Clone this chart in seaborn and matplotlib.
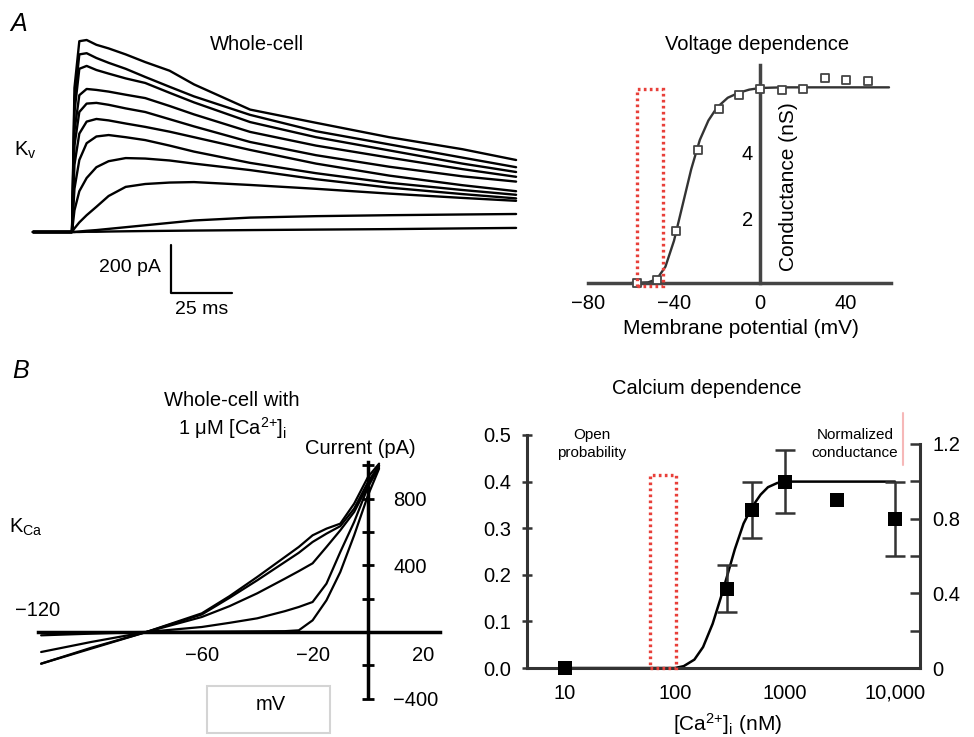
import numpy as np
import pandas as pd
import matplotlib
matplotlib.use("Agg")
import matplotlib.pyplot as plt
from matplotlib.patches import Rectangle
from matplotlib.lines import Line2D
from matplotlib.ticker import LogLocator, NullFormatter
import seaborn as sns

# ---- A, whole-cell Kv sweeps (time in ms, current in pA)
kv_time = [-16, 0, 1, 3, 6, 10, 15, 22, 30, 40, 50, 73, 100, 130, 160, 182]
kv_sweep1 = [0, 0, 600, 795, 800, 780, 765, 740, 708, 672, 615, 510, 455, 395, 345, 300]
kv_sweep2 = [0, 0, 550, 740, 745, 725, 705, 680, 646, 605, 565, 488, 420, 365, 310, 270]
kv_sweep3 = [0, 0, 500, 680, 692, 675, 660, 640, 621, 580, 540, 458, 395, 340, 285, 250]
kv_sweep4 = [0, 0, 420, 570, 596, 592, 585, 572, 558, 525, 490, 417, 360, 310, 262, 230]
kv_sweep5 = [0, 0, 360, 500, 535, 538, 530, 515, 500, 470, 440, 375, 320, 272, 232, 210]
kv_sweep6 = [0, 0, 280, 410, 460, 471, 465, 452, 438, 418, 395, 342, 285, 235, 195, 170]
kv_sweep7 = [0, 0, 180, 300, 370, 398, 404, 395, 383, 360, 335, 288, 245, 205, 175, 155]
kv_sweep8 = [0, 0, 90, 170, 225, 270, 295, 308, 306, 298, 285, 258, 220, 185, 158, 140]
kv_sweep9 = [0, 0, 15, 40, 70, 105, 150, 188, 200, 206, 208, 196, 180, 160, 142, 130]
kv_sweep10 = [0, 0, 0, 2, 5, 8, 13, 20, 28, 38, 48, 60, 66, 70, 73, 75]
kv_sweep11 = [0, 0, 0, 0, 1, 1, 2, 3, 4, 5, 6, 8, 10, 12, 15, 17]
kv_sweeps = [kv_sweep1, kv_sweep2, kv_sweep3, kv_sweep4, kv_sweep5, kv_sweep6,
             kv_sweep7, kv_sweep8, kv_sweep9, kv_sweep10, kv_sweep11]

# ---- A, voltage dependence (mV, nS)
vd_voltage = [-57, -48, -39, -29, -19, -10, 0, 10, 20, 30, 40, 50]
vd_conductance = [0.0, 0.1, 1.6, 4.1, 5.35, 5.8, 5.97, 5.95, 5.97, 6.3, 6.25, 6.2]
vd_fit_v = [-60, -52, -48, -44, -40, -36, -32, -28, -24, -20, -15, -10, -5, 0, 10, 60]
vd_fit_g = [0.0, 0.02, 0.12, 0.5, 1.3, 2.4, 3.5, 4.4, 5.0, 5.4, 5.7, 5.85, 5.95, 6.0, 6.02, 6.02]
vd_box_v = (-57.2, -45.1)
vd_box_top = 5.97

# ---- B, KCa ramps with 1 uM Ca (mV, pA)
iv_voltage = [-118, -100, -80, -60, -50, -40, -30, -25, -20, -15, -10, -5, 0, 4]
iv_ramp1 = [-190, -100, 0, 112, 215, 330, 450, 510, 580, 620, 650, 770, 930, 1010]
iv_ramp2 = [-190, -95, 0, 105, 205, 310, 420, 475, 540, 590, 635, 740, 900, 1000]
iv_ramp3 = [-120, -60, 0, 90, 155, 232, 320, 365, 412, 510, 610, 720, 880, 1000]
iv_ramp4 = [-20, -10, 0, 30, 55, 82, 125, 150, 180, 290, 480, 660, 870, 990]
iv_ramp5 = [-5, -3, 0, 2, 3, 4, 5, 10, 70, 190, 360, 580, 820, 980]
iv_ramps = [iv_ramp1, iv_ramp2, iv_ramp3, iv_ramp4, iv_ramp5]

# ---- B, calcium dependence ([Ca2+]i nM, open probability)
ca_conc = [10, 300, 500, 1000, 3000, 10000]
ca_popen = [0.0, 0.17, 0.34, 0.40, 0.36, 0.32]
ca_sem = [0, 0.05, 0.06, 0.068, 0, 0.08]
ca_fit_conc = [10, 100, 120, 150, 180, 220, 260, 300, 350, 420, 500, 600, 700, 850, 1000, 10000]
ca_fit_popen = [0, 0, 0.004, 0.018, 0.045, 0.095, 0.15, 0.2, 0.255, 0.31, 0.345, 0.372, 0.388, 0.397, 0.40, 0.40]
ca_box_conc = (59, 102)
ca_box_top = 0.414

sns.set_style("white")
plt.rcParams["font.family"] = ["Liberation Sans", "DejaVu Sans"]
plt.rcParams["mathtext.fontset"] = "custom"
plt.rcParams["mathtext.rm"] = "Liberation Sans"
plt.rcParams["mathtext.it"] = "Liberation Sans:italic"
for k in ["text.color", "axes.labelcolor", "xtick.color", "ytick.color"]:
    plt.rcParams[k] = "black"

W, H = 974, 737
fig = plt.figure(figsize=(W / 100, H / 100), dpi=100)
RED = "#e8403a"
TICK = 14.5


def px_axes(left, top, right, bottom):
    return fig.add_axes([left / W, 1 - bottom / H, (right - left) / W, (bottom - top) / H])


def px_text(x, y, s, **kw):
    kw.setdefault("ha", "center")
    kw.setdefault("va", "center")
    return fig.text(x / W, 1 - y / H, s, **kw)


# ================= A left: current traces =================
ax = px_axes(30, 20, 525, 330)
kv_df = pd.DataFrame({
    "time": kv_time * len(kv_sweeps),
    "current": sum(kv_sweeps, []),
    "sweep": np.repeat(np.arange(len(kv_sweeps)), len(kv_time)),
})
sns.lineplot(data=kv_df, x="time", y="current", units="sweep", estimator=None,
             sort=False, color="black", lw=1.7, ax=ax, legend=False)
ax.set_xlim((30 - 72) / 2.44, (525 - 72) / 2.44)
ax.set_ylim((232 - 330) / 0.24, (232 - 20) / 0.24)
ax.axis("off")
sb_t, sb_i = 40.6, -254
ax.plot([sb_t, sb_t, sb_t + 25], [sb_i + 200, sb_i, sb_i], color="black", lw=1.6)
px_text(130, 268, "200 pA", fontsize=14)
px_text(202, 310, "25 ms", fontsize=14)

# ================= A right: voltage dependence =================
ax = px_axes(760 - 82 * 2.15, 283 - 6.9 * 32.5, 760 + 64 * 2.15, 283 + 0.4 * 32.5)
sns.lineplot(x=vd_fit_v, y=vd_fit_g, color="#333333", lw=1.7, ax=ax)
sns.scatterplot(x=vd_voltage, y=vd_conductance, marker="s", s=30, color="white",
                edgecolor="#444444", linewidth=1.3, ax=ax, zorder=4, clip_on=False)
ax.add_patch(Rectangle((vd_box_v[0], -0.1), vd_box_v[1] - vd_box_v[0], vd_box_top + 0.1,
                       fill=False, edgecolor=RED, lw=2.4, ls=(0, (0.8, 1.0)), zorder=5))
ax.set_xlim(-82, 64)
ax.set_ylim(-0.4, 6.9)
for s in ["top", "right"]:
    ax.spines[s].set_visible(False)
for s in ["left", "bottom"]:
    ax.spines[s].set_position(("data", 0))
    ax.spines[s].set_color("#444444")
    ax.spines[s].set_linewidth(2.5)
ax.spines["left"].set_bounds(0, 6.7)
ax.spines["bottom"].set_bounds(-80, 61)
ax.set_xticks([-80, -40, 0, 40])
ax.set_xticks([-60, -20, 20, 60], minor=True)
ax.set_yticks([2, 4])
ax.set_yticks([1, 3, 5, 6], minor=True)
ax.tick_params(which="both", direction="inout", length=6, width=2, color="#444444",
               labelsize=TICK)
ax.tick_params(axis="x", pad=5)
ax.tick_params(axis="y", pad=2)
ax.set_xlabel("")
ax.set_ylabel("")
px_text(788, 187, "Conductance (nS)", fontsize=15, rotation=90)
px_text(741, 328, "Membrane potential (mV)", fontsize=15)
px_text(757, 44, "Voltage dependence", fontsize=14.5)

# ================= B left: I-V ramps =================
ax = px_axes(30, 455, 445, 705)
iv_df = pd.DataFrame({
    "mV": iv_voltage * len(iv_ramps),
    "pA": sum(iv_ramps, []),
    "ramp": np.repeat(np.arange(len(iv_ramps)), len(iv_voltage)),
})
sns.lineplot(data=iv_df, x="mV", y="pA", units="ramp", estimator=None, sort=False,
             color="black", lw=1.6, ax=ax, legend=False)
ax.set_xlim((30 - 368) / 2.77, (445 - 368) / 2.77)
ax.set_ylim((632 - 705) / 0.1667, (632 - 455) / 0.1667)
for s in ["top", "left"]:
    ax.spines[s].set_visible(False)
for s in ["right", "bottom"]:
    ax.spines[s].set_position(("data", 0))
    ax.spines[s].set_color("black")
    ax.spines[s].set_linewidth(2.5)
ax.yaxis.set_ticks_position("right")
ax.spines["right"].set_bounds(-390, 1020)
ax.spines["bottom"].set_bounds(-119, 26)
ax.set_xticks(range(-120, 21, 20))
ax.set_xticklabels(["", "", "", "\u221260", "", "\u221220", "", "20"])
ax.set_yticks(range(-400, 1001, 200))
ax.set_yticklabels(["\u2212400", "", "", "", "400", "", "800", ""])
ax.tick_params(direction="inout", length=8, width=2, color="black", labelsize=TICK)
ax.tick_params(axis="x", pad=6)
ax.tick_params(axis="y", pad=14)
ax.set_xlabel("")
ax.set_ylabel("")
px_text(38, 610, "\u2212120", fontsize=TICK)
px_text(360, 449, "Current (pA)", fontsize=14.5)
px_text(232, 400, "Whole-cell with", fontsize=14.5)
px_text(232, 428, r"1 μM [Ca$^{\mathrm{2{+}}}$]$_{\mathrm{i}}$", fontsize=14.5)
fig.add_artist(Rectangle((207 / W, 1 - 733 / H), 123 / W, 47 / H, transform=fig.transFigure,
                         facecolor="white", edgecolor="#d4d4d4", lw=1.5))
px_text(271, 704, "mV", fontsize=14.5)

# ================= B right: calcium dependence =================
ax = px_axes(527, 435, 920, 672)
ax.set_xscale("log")
sns.lineplot(x=ca_fit_conc, y=ca_fit_popen, color="black", lw=1.8, ax=ax)
has_err = [e > 0 for e in ca_sem]
ax.errorbar([c for c, k in zip(ca_conc, has_err) if k],
            [p for p, k in zip(ca_popen, has_err) if k],
            yerr=[e for e, k in zip(ca_sem, has_err) if k],
            fmt="none", ecolor="#333333", elinewidth=1.8, capsize=7, capthick=1.8)
sns.scatterplot(x=ca_conc, y=ca_popen, marker="s", s=115, color="black",
                linewidth=0, ax=ax, zorder=4, clip_on=False)
ax.add_patch(Rectangle((ca_box_conc[0], 0), ca_box_conc[1] - ca_box_conc[0], ca_box_top,
                       fill=False, edgecolor=RED, lw=2.4, ls=(0, (0.8, 1.0)), zorder=5))
xlo = 10 ** (1 + (527 - 565) / 110)
xhi = 10 ** (1 + (920 - 565) / 110)
ax.set_xlim(xlo, xhi)
ylim = ((668 - 672) / 466.7, (668 - 435) / 466.7)
ax.set_ylim(*ylim)
for s in ["top", "right"]:
    ax.spines[s].set_visible(False)
for s in ["left", "bottom"]:
    ax.spines[s].set_color("#333333")
    ax.spines[s].set_linewidth(2.2)
ax.spines["bottom"].set_position(("data", 0))
ax.spines["left"].set_bounds(0, 0.5)
ax.set_xticks([10, 100, 1000, 10000])
ax.set_xticklabels(["10", "100", "1000", "10,000"])
ax.xaxis.set_minor_locator(LogLocator(base=10, subs=np.arange(2, 10)))
ax.xaxis.set_minor_formatter(NullFormatter())
ax.set_yticks(np.arange(0, 0.51, 0.1))
ax.set_yticklabels(["0.0", "0.1", "0.2", "0.3", "0.4", "0.5"])
ax.tick_params(which="both", direction="inout", color="#333333", width=1.8, labelsize=TICK)
ax.tick_params(which="major", length=7)
ax.tick_params(which="minor", length=5)
ax.tick_params(axis="x", pad=8)
ax.tick_params(axis="y", pad=8)
ax.set_xlabel("")
ax.set_ylabel("")

ax2 = ax.twinx()
ax2.set_ylim(ylim[0] * 2.5, ylim[1] * 2.5)
for s in ["top", "left", "bottom"]:
    ax2.spines[s].set_visible(False)
ax2.spines["right"].set_color("#333333")
ax2.spines["right"].set_linewidth(2.2)
ax2.spines["right"].set_bounds(0, 1.2)
ax2.set_yticks(np.arange(0, 1.21, 0.2))
ax2.set_yticklabels(["0", "", "0.4", "", "0.8", "", "1.2"])
ax2.tick_params(axis="y", direction="in", length=7, width=1.8, color="#333333",
                labelsize=TICK, pad=9)

px_text(707, 388, "Calcium dependence", fontsize=14.5)
px_text(592, 444, "Open\nprobability", fontsize=11, linespacing=1.35)
px_text(855, 444, "Normalized\nconductance", fontsize=11, linespacing=1.35)
px_text(728, 724, r"[Ca$^{\mathrm{2{+}}}$]$_{\mathrm{i}}$ (nM)", fontsize=15)
fig.add_artist(Line2D([903 / W, 903 / W], [1 - 413 / H, 1 - 465 / H],
                      transform=fig.transFigure, color="#f6b8b8", lw=1.5))

# ---- panel labels
px_text(19, 24, "A", fontsize=18, style="italic")
px_text(21, 371, "B", fontsize=18, style="italic")
px_text(25, 150, r"K$_{\mathrm{v}}$", fontsize=14.5)
px_text(26, 527, r"K$_{\mathrm{Ca}}$", fontsize=14.5)
px_text(257, 44, "Whole-cell", fontsize=14.5)

fig.savefig("out.png", dpi=100)
